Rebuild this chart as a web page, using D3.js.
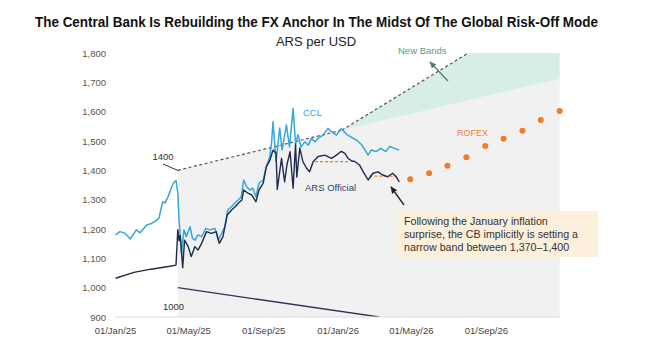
<!DOCTYPE html>
<html>
<head>
<meta charset="utf-8">
<script src="https://cdn.jsdelivr.net/npm/d3@7"></script>
<style>
  body { margin: 0; background: #fff; }
  text { font-family: "Liberation Sans", Arial, sans-serif; }
</style>
</head>
<body>
<div id="chart"></div>
<script>
// ARS per USD: official rate, CCL, bands and ROFEX futures
const officialSeries = [
  ["2025-01-02",1032],["2025-02-01",1052],["2025-03-01",1063],["2025-04-01",1073],["2025-04-11",1077],
  ["2025-04-14",1198],["2025-04-16",1160],["2025-04-18",1178],["2025-04-22",1068],["2025-04-25",1162],
  ["2025-05-01",1140],["2025-05-06",1106],["2025-05-12",1140],["2025-05-17",1128],["2025-05-23",1151],
  ["2025-05-31",1191],["2025-06-08",1185],["2025-06-16",1191],["2025-06-21",1151],["2025-06-27",1174],
  ["2025-07-04",1248],["2025-07-11",1265],["2025-07-17",1276],["2025-07-22",1288],["2025-07-28",1299],
  ["2025-07-31",1333],["2025-08-07",1322],["2025-08-13",1316],["2025-08-20",1293],["2025-08-25",1333],
  ["2025-09-01",1356],["2025-09-06",1412],["2025-09-12",1435],["2025-09-17",1469],["2025-09-22",1458],
  ["2025-09-24",1335],["2025-10-01",1441],["2025-10-06",1361],["2025-10-10",1420],["2025-10-15",1464],
  ["2025-10-20",1339],["2025-10-24",1490],["2025-10-26",1377],["2025-10-31",1476],["2025-11-05",1430],
  ["2025-11-11",1407],["2025-11-16",1395],["2025-11-22",1430],["2025-11-30",1447],["2025-12-11",1452],
  ["2025-12-22",1441],["2025-12-30",1452],["2026-01-07",1465],["2026-01-13",1458],["2026-01-18",1441],
  ["2026-01-24",1432],["2026-01-29",1430],["2026-02-06",1418],["2026-02-12",1395],["2026-02-20",1367],
  ["2026-02-28",1390],["2026-03-08",1395],["2026-03-16",1384],["2026-03-24",1378],["2026-04-01",1390],
  ["2026-04-07",1378],["2026-04-12",1361]
];

const cclSeries = [
  ["2025-01-02",1180],["2025-01-09",1191],["2025-01-17",1186],["2025-01-26",1166],["2025-02-05",1197],
  ["2025-02-11",1187],["2025-02-22",1214],["2025-03-02",1219],["2025-03-07",1225],["2025-03-14",1236],
  ["2025-03-20",1293],["2025-03-24",1288],["2025-03-29",1310],["2025-04-04",1344],["2025-04-08",1361],
  ["2025-04-11",1365],["2025-04-14",1322],["2025-04-16",1231],["2025-04-20",1117],["2025-04-24",1197],
  ["2025-04-28",1174],["2025-05-04",1208],["2025-05-08",1168],["2025-05-12",1162],["2025-05-17",1180],
  ["2025-05-23",1174],["2025-05-30",1202],["2025-06-05",1197],["2025-06-14",1202],["2025-06-19",1162],
  ["2025-06-25",1185],["2025-06-30",1208],["2025-07-05",1265],["2025-07-11",1276],["2025-07-16",1288],
  ["2025-07-22",1299],["2025-07-27",1310],["2025-07-31",1367],["2025-08-05",1344],["2025-08-10",1333],
  ["2025-08-15",1339],["2025-08-20",1310],["2025-08-25",1356],["2025-09-01",1367],["2025-09-06",1412],
  ["2025-09-12",1447],["2025-09-15",1503],["2025-09-17",1566],["2025-09-22",1430],["2025-09-28",1544],
  ["2025-10-02",1470],["2025-10-09",1555],["2025-10-14",1480],["2025-10-20",1611],["2025-10-24",1490],
  ["2025-10-28",1521],["2025-11-02",1480],["2025-11-08",1497],["2025-11-14",1486],["2025-11-19",1509],
  ["2025-11-25",1497],["2025-11-30",1509],["2025-12-08",1520],["2025-12-16",1543],["2025-12-22",1532],
  ["2025-12-30",1520],["2026-01-07",1543],["2026-01-16",1522],["2026-01-24",1512],["2026-02-01",1503],
  ["2026-02-09",1488],["2026-02-15",1469],["2026-02-20",1452],["2026-02-25",1469],["2026-03-05",1464],
  ["2026-03-13",1475],["2026-03-21",1464],["2026-03-27",1481],["2026-04-04",1475],["2026-04-12",1469]
];

// old upper band (1400 start), new band from Jan 2026, lower band (1000 start)
const oldUpperBand = [["2025-04-14",1400],["2026-01-08",1537],["2026-12-31",1712]];
const newUpperBand = [["2026-01-08",1537],["2026-12-31",1990]];
const lowerBand = [["2025-04-14",1000],["2026-03-10",900]];

// implied narrow bands (orange dashes)
const impliedBands = [["2025-11-25","2026-01-21",1430],["2026-02-22","2026-04-08",1380]];

const rofexDates = ["2026-04-30","2026-05-31","2026-06-30","2026-07-31","2026-08-31",
                    "2026-09-30","2026-10-31","2026-11-30","2026-12-31"];
const rofexValues = [1370,1390,1416,1445,1483,1508,1535,1572,1602];

const xTicks = ["2025-01-01","2025-05-01","2025-09-01","2026-01-01","2026-05-01","2026-09-01"];
const yTicks = [900,1000,1100,1200,1300,1400,1500,1600,1700,1800];

const svgWidth = 652;
const svgHeight = 363;
const margin = { top: 53, left: 115 };
const width = 445.3;
const height = 264;

const parse = d3.timeParse("%Y-%m-%d");

const svg = d3.select("#chart").append("svg")
  .attr("width", svgWidth)
  .attr("height", svgHeight);

const defs = svg.append("defs");
defs.append("clipPath").attr("id", "plotClip")
  .append("rect").attr("x", 0).attr("y", 0).attr("width", width).attr("height", height);

function addArrow(id, color) {
  defs.append("marker")
    .attr("id", id)
    .attr("viewBox", "0 0 10 10")
    .attr("refX", 8).attr("refY", 5)
    .attr("markerWidth", 6).attr("markerHeight", 6)
    .attr("orient", "auto")
    .append("path").attr("d", "M0,1 L9,5 L0,9 Z").attr("fill", color);
}
addArrow("arrowDark", "#222");
addArrow("arrowGreen", "#4f7f73");

const chartGroup = svg.append("g")
  .attr("transform", `translate(${margin.left}, ${margin.top})`);

const x = d3.scaleTime()
  .domain([parse("2025-01-01"), parse("2027-01-01")])
  .range([0, width]);

const y = d3.scaleLinear()
  .domain([900, 1800])
  .range([height, 0]);

const plot = chartGroup.append("g").attr("clip-path", "url(#plotClip)");

// gray band area (below old upper band)
plot.append("path")
  .datum(oldUpperBand)
  .attr("fill", "#f1f1f1")
  .attr("d", d3.area().x(d => x(parse(d[0]))).y0(y(900)).y1(d => y(d[1])));

// green area between old band and new band
const greenData = oldUpperBand.slice(1).map((d, i) => [d[0], d[1], newUpperBand[i][1]]);
plot.append("path")
  .datum(greenData)
  .attr("fill", "#d6eee7")
  .attr("d", d3.area().x(d => x(parse(d[0]))).y0(d => y(d[1])).y1(d => y(d[2])));

const line = d3.line().x(d => x(parse(d[0]))).y(d => y(d[1]));

// x baseline
chartGroup.append("line")
  .attr("x1", 0).attr("x2", width)
  .attr("y1", height).attr("y2", height)
  .attr("stroke", "#dcdcdc").attr("stroke-width", 1);

// dashed upper band
plot.append("path")
  .datum(oldUpperBand.slice(0, 2))
  .attr("fill", "none").attr("stroke", "#555")
  .attr("stroke-width", 1.2).attr("stroke-dasharray", "3,2.5")
  .attr("d", line);
plot.append("path")
  .datum(newUpperBand)
  .attr("fill", "none").attr("stroke", "#555")
  .attr("stroke-width", 1.2).attr("stroke-dasharray", "3,2.5")
  .attr("d", line);

// lower band
plot.append("path")
  .datum(lowerBand)
  .attr("fill", "none").attr("stroke", "#2b3650")
  .attr("stroke-width", 1.3)
  .attr("d", line);

// implied narrow bands
plot.selectAll(".implied")
  .data(impliedBands)
  .enter()
  .append("line")
  .attr("x1", d => x(parse(d[0])))
  .attr("x2", d => x(parse(d[1])))
  .attr("y1", d => y(d[2]))
  .attr("y2", d => y(d[2]))
  .attr("stroke", "#f07c2a").attr("stroke-width", 1.3)
  .attr("stroke-dasharray", "3,2");

// official rate and CCL
plot.append("path")
  .datum(cclSeries)
  .attr("fill", "none").attr("stroke", "#36a6db")
  .attr("stroke-width", 1.5).attr("stroke-linejoin", "round")
  .attr("d", line);

plot.append("path")
  .datum(officialSeries)
  .attr("fill", "none").attr("stroke", "#1f2b4a")
  .attr("stroke-width", 1.4).attr("stroke-linejoin", "round")
  .attr("d", line);

// ROFEX dots
chartGroup.selectAll(".rofex")
  .data(rofexDates)
  .enter()
  .append("circle")
  .attr("cx", d => x(parse(d)))
  .attr("cy", (d, i) => y(rofexValues[i]))
  .attr("r", 3)
  .attr("fill", "#f07c27");

// axes
const yAxis = d3.axisLeft(y)
  .tickValues(yTicks)
  .tickSize(0)
  .tickPadding(9)
  .tickFormat(d3.format(","));
chartGroup.append("g")
  .call(yAxis)
  .call(g => g.select(".domain").remove())
  .selectAll("text")
  .attr("fill", "#555")
  .style("font-size", "9.5px");

const xAxis = d3.axisBottom(x)
  .tickValues(xTicks.map(parse))
  .tickSize(0)
  .tickPadding(10)
  .tickFormat(d3.timeFormat("%d/%b/%y"));
chartGroup.append("g")
  .attr("transform", `translate(0, ${height})`)
  .call(xAxis)
  .call(g => g.select(".domain").remove())
  .selectAll("text")
  .attr("fill", "#444")
  .style("font-size", "9.5px");

// titles
svg.append("text")
  .attr("x", 316.5).attr("y", 27)
  .attr("text-anchor", "middle")
  .attr("textLength", 563)
  .attr("lengthAdjust", "spacingAndGlyphs")
  .style("font-size", "14px").style("font-weight", "bold")
  .attr("fill", "#111")
  .text("The Central Bank Is Rebuilding the FX Anchor In The Midst Of The Global Risk-Off Mode");

svg.append("text")
  .attr("x", 316).attr("y", 45.5)
  .attr("text-anchor", "middle")
  .style("font-size", "13px")
  .attr("fill", "#222")
  .text("ARS per USD");

// series labels
svg.append("text").attr("x", 303).attr("y", 115.5)
  .style("font-size", "9.5px").attr("fill", "#3aa3d6").text("CCL");
svg.append("text").attr("x", 305).attr("y", 190.5)
  .style("font-size", "9.5px").attr("fill", "#2f4466").text("ARS Official");
svg.append("text").attr("x", 457).attr("y", 135.5)
  .style("font-size", "9px").attr("fill", "#f07f2f").text("ROFEX");
svg.append("text").attr("x", 398).attr("y", 54)
  .style("font-size", "9.5px").attr("fill", "#5a9c88").text("New Bands");

// New Bands arrow
svg.append("line")
  .attr("x1", 448).attr("y1", 81).attr("x2", 430).attr("y2", 62)
  .attr("stroke", "#4f7f73").attr("stroke-width", 1.3)
  .attr("marker-end", "url(#arrowGreen)");

// band start labels
svg.append("text").attr("x", 152.5).attr("y", 160)
  .style("font-size", "9.5px").attr("fill", "#333").text("1400");
svg.append("line")
  .attr("x1", 163).attr("y1", 164).attr("x2", 178).attr("y2", 170.5)
  .attr("stroke", "#333").attr("stroke-width", 1);
svg.append("text").attr("x", 163).attr("y", 309.5)
  .style("font-size", "9.5px").attr("fill", "#333").text("1000");

// annotation box
svg.append("rect")
  .attr("x", 398).attr("y", 211).attr("width", 200).attr("height", 46)
  .attr("fill", "#fcefdc");
const noteLines = ["Following the January inflation",
                   "surprise, the CB implicitly is setting a",
                   "narrow band between 1,370\u20131,400"];
svg.selectAll(".note")
  .data(noteLines)
  .enter()
  .append("text")
  .attr("x", 404)
  .attr("y", (d, i) => 224.5 + i * 13.4)
  .style("font-size", "10.7px")
  .attr("fill", "#333")
  .text(d => d);
svg.append("line")
  .attr("x1", 404).attr("y1", 205).attr("x2", 391).attr("y2", 187)
  .attr("stroke", "#222").attr("stroke-width", 1.3)
  .attr("marker-end", "url(#arrowDark)");
</script>
</body>
</html>
